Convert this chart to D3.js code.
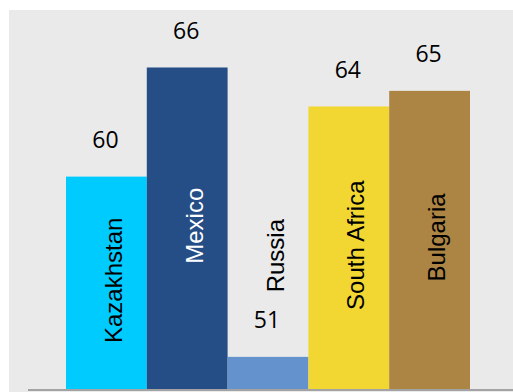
<!DOCTYPE html>
<html><head><meta charset="utf-8">
<script src="https://cdn.jsdelivr.net/npm/d3@7"></script>
<style>html,body{margin:0;padding:0;background:#fff;}svg{display:block;}</style>
</head><body>
<svg id="chart" width="513" height="392"></svg>
<script>
const categories = ["Kazakhstan", "Mexico", "Russia", "South Africa", "Bulgaria"];
const values = [60.3, 65.9, 51.05, 63.9, 64.7];
const barColors = ["#00cbff", "#264e86", "#6492cc", "#f2d733", "#ac8443"];
const labelColors = ["#000", "#fff", "#000", "#000", "#000"];

const W = 513, H = 392;
const svg = d3.select("#chart");
svg.append("rect").attr("x", 9).attr("y", 10).attr("width", W - 9).attr("height", H - 10).attr("fill", "#eaeaea");

const x = d3.scaleBand().domain(categories).range([66, 470]).padding(0);
const y = d3.scaleLinear().domain([49.35, 68.85]).range([390, 10]);
const base = y(y.domain()[0]);

const g = svg.append("g");
categories.forEach((c, i) => {
  const v = values[i];
  const barTop = y(v), barH = base - barTop;
  g.append("rect")
    .attr("x", x(c)).attr("y", barTop)
    .attr("width", x.bandwidth()).attr("height", barH)
    .attr("fill", barColors[i]);
  g.append("text")
    .attr("x", x(c) + x.bandwidth() / 2 - 1).attr("y", barTop - 28.5)
    .attr("text-anchor", "middle")
    .attr("font-family", "'Open Sans', sans-serif")
    .attr("font-size", 23).attr("fill", "#000")
    .text(d3.format(".0f")(v));
  const t = g.append("text")
    .attr("font-family", "'Liberation Sans', Arial, sans-serif")
    .attr("font-size", 24)
    .attr("fill", labelColors[i])
    .attr("text-anchor", "middle")
    .attr("dominant-baseline", "central")
    .text(c);
  const len = t.node().getComputedTextLength();
  let cy = barTop + barH / 2 - 3;
  if (barH < len + 20) {
    cy = barTop - 28.5 - 17 - 19 - len / 2;
  }
  const cx = x(c) + x.bandwidth() / 2 + 7;
  t.attr("transform", `translate(${cx},${cy}) rotate(-90)`);
});

svg.append("line").attr("x1", 28).attr("x2", W).attr("y1", 390).attr("y2", 390)
  .attr("stroke", "#a3a3a3").attr("stroke-width", 2);
</script>
</body></html>
